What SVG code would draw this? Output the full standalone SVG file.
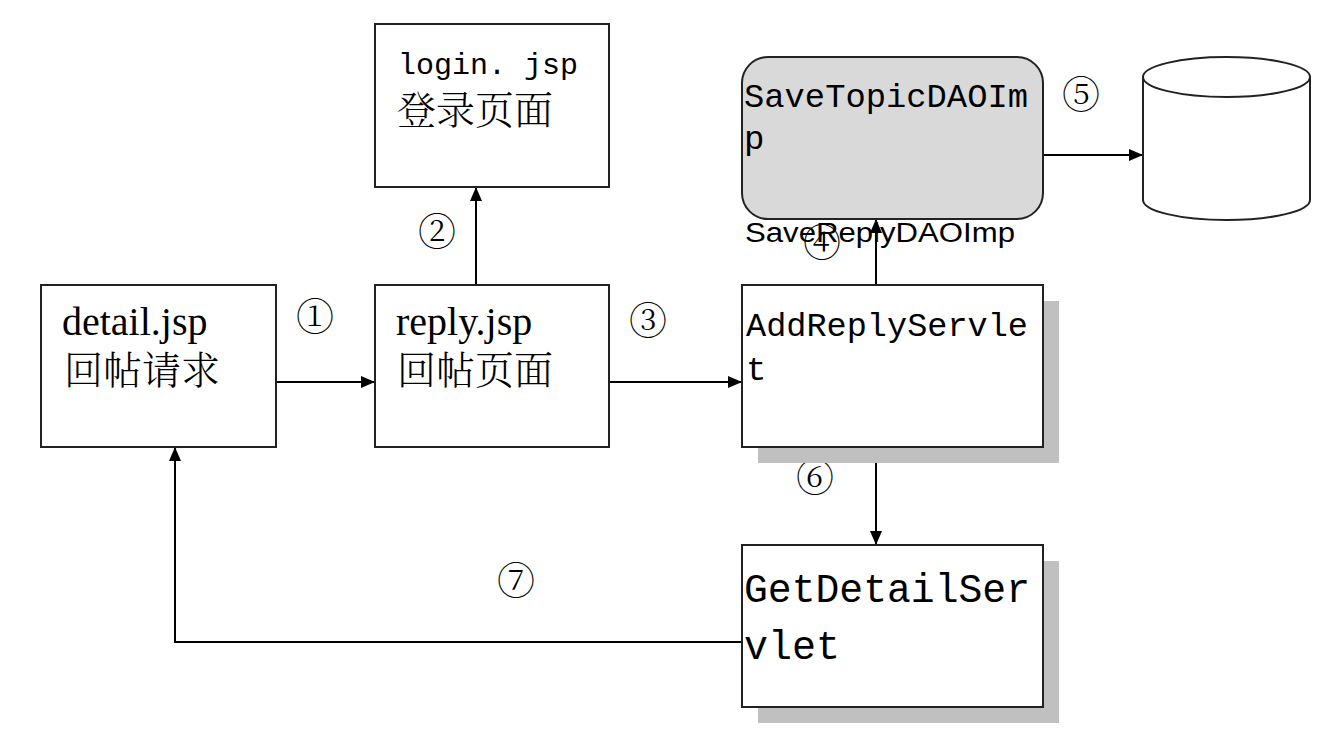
<svg xmlns="http://www.w3.org/2000/svg" width="1343" height="736" viewBox="0 0 1343 736">
<style>
.box{fill:#fff;stroke:#222;stroke-width:2}
.shadow{fill:#c0c0c0}
.conn{fill:none;stroke:#000;stroke-width:2}
.serif{font-family:"Liberation Serif","Noto Sans CJK SC",serif;font-size:40px;fill:#000}
.cjk{font-family:"Noto Serif CJK SC","Noto Sans CJK SC",serif;font-size:39px;fill:#000;font-weight:300}
.mono{font-family:"Liberation Mono","Noto Sans CJK SC",monospace;fill:#000}
.num{font-family:"Noto Serif CJK SC","Noto Sans CJK SC",serif;font-size:38px;fill:#000;font-weight:300}
</style>
<defs>
<marker id="arr" markerWidth="14" markerHeight="12" refX="13" refY="6" orient="auto" markerUnits="userSpaceOnUse">
<path d="M0,0 L14,6 L0,12 Z" fill="#000"/>
</marker>
</defs>
<g id="connectors">
<line class="conn" x1="276" y1="382" x2="374" y2="382" marker-end="url(#arr)"/>
<line class="conn" x1="609" y1="382" x2="741" y2="382" marker-end="url(#arr)"/>
<line class="conn" x1="476" y1="285" x2="476" y2="188" marker-end="url(#arr)"/>
<line class="conn" x1="876" y1="285" x2="876" y2="220" marker-end="url(#arr)"/>
<line class="conn" x1="1043" y1="155" x2="1142" y2="155" marker-end="url(#arr)"/>
<line class="conn" x1="876" y1="447" x2="876" y2="544" marker-end="url(#arr)"/>
<polyline class="conn" points="742,642 175,642 175,448" marker-end="url(#arr)"/>
</g>
<g id="labels">
<text class="num" x="296" y="330">①</text>
<text class="num" x="418" y="245">②</text>
<text class="num" x="629" y="334">③</text>
<text class="num" x="803" y="256">④</text>
<text class="num" x="1062" y="108">⑤</text>
<text class="num" x="796" y="491">⑥</text>
<text class="num" x="497" y="594">⑦</text>
</g>
<g id="login">
<rect class="box" x="375" y="24" width="234" height="163"/>
<text class="mono" x="398" y="74" font-size="30">login. jsp</text>
<text class="cjk" x="397" y="124">登录页面</text>
</g>
<g id="detail">
<rect class="box" x="41" y="285" width="235" height="162"/>
<text class="serif" x="62" y="335">detail.jsp</text>
<text class="cjk" x="64" y="384">回帖请求</text>
</g>
<g id="reply">
<rect class="box" x="375" y="285" width="234" height="162"/>
<text class="serif" x="396" y="335">reply.jsp</text>
<text class="cjk" x="397" y="384">回帖页面</text>
</g>
<g id="savetopic">
<rect x="742" y="57" width="301" height="162" rx="26" ry="26" fill="#d9d9d9" stroke="#222" stroke-width="2"/>
<text class="mono" x="744" y="107" font-size="34" textLength="284" lengthAdjust="spacingAndGlyphs">SaveTopicDAOIm</text>
<text class="mono" x="744" y="149" font-size="34">p</text>
</g>
<g id="savereply">
<text x="745" y="242" font-family="Liberation Sans, Arial, sans-serif" font-size="27" textLength="270" lengthAdjust="spacingAndGlyphs" fill="#000">SaveReplyDAOImp</text>
</g>
<g id="db">
<path d="M1143,77 L1143,200 A83.5,20 0 0 0 1310,200 L1310,77" fill="#fff" stroke="#222" stroke-width="2"/>
<ellipse cx="1226.5" cy="77" rx="83.5" ry="20" fill="#fff" stroke="#222" stroke-width="2"/>
</g>
<g id="addreply">
<rect class="shadow" x="758" y="301" width="301" height="162"/>
<rect class="box" x="742" y="285" width="301" height="162"/>
<text class="mono" x="746" y="336" font-size="34" textLength="282" lengthAdjust="spacingAndGlyphs">AddReplyServle</text>
<text class="mono" x="746" y="380" font-size="34">t</text>
</g>
<g id="getdetail">
<rect class="shadow" x="758" y="561" width="301" height="162"/>
<rect class="box" x="742" y="545" width="301" height="162"/>
<text class="mono" x="744" y="602" font-size="40" textLength="286" lengthAdjust="spacingAndGlyphs">GetDetailSer</text>
<text class="mono" x="744" y="659" font-size="40">vlet</text>
</g>
</svg>
